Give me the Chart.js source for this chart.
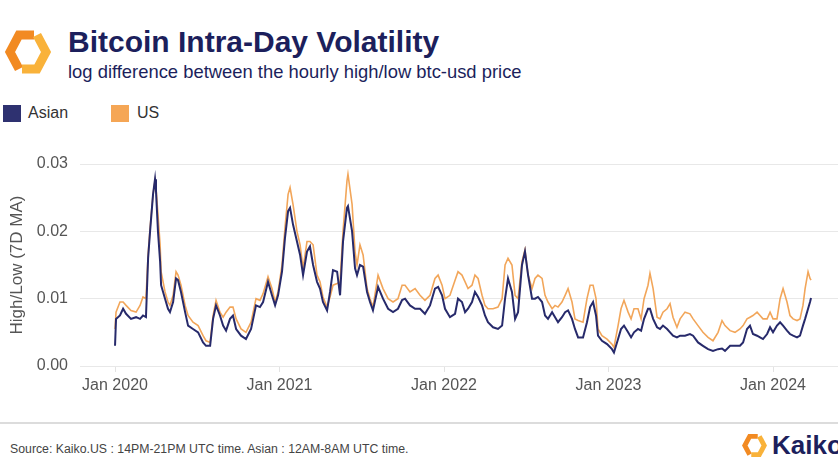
<!DOCTYPE html>
<html>
<head>
<meta charset="utf-8">
<title>Bitcoin Intra-Day Volatility</title>
<script src="https://cdn.jsdelivr.net/npm/chart.js@4.4.1/dist/chart.umd.min.js"></script>
<style>
    html, body { margin: 0; padding: 0; background: #fff; }
    body { width: 838px; height: 472px; position: relative; overflow: hidden;
           font-family: "Liberation Sans", Arial, Helvetica, sans-serif; }
    .logo { position: absolute; left: 3px; top: 27px; width: 50px; height: 50px; }
    .title { position: absolute; left: 68px; top: 25px; font-size: 30px; line-height: 34px;
             font-weight: bold; color: #1c1f5c; white-space: nowrap; }
    .subtitle { position: absolute; left: 68px; top: 61px; font-size: 18.4px; line-height: 22px;
                color: #1c1f5c; white-space: nowrap; }
    .legend { position: absolute; top: 104px; left: 3px; font-size: 16px; line-height: 18px; color: #333; }
    .legend span { position: absolute; top: 0; white-space: nowrap; }
    .legend i { position: absolute; top: 1px; width: 18px; height: 17px; }
    #chartBox { position: absolute; left: 0; top: 140px; width: 838px; height: 270px; }
    .rule { position: absolute; left: 0; top: 422px; width: 838px; height: 2px; background: #dcdcdc; }
    .source { position: absolute; left: 10px; top: 442px; font-size: 12.3px; line-height: 14px;
              color: #444; white-space: nowrap; }
    .brand { position: absolute; left: 741px; top: 432px; width: 27px; height: 27px; }
    .brandText { position: absolute; left: 772px; top: 430px; font-size: 26px; line-height: 30px;
                 font-weight: bold; color: #1c1f5c; white-space: nowrap; }
</style>
</head>
<body>

<svg class="logo" viewBox="0 0 50 50">
    <path d="M31 8 L16 8 L7 25 L16 42" fill="none" stroke="#f28a22" stroke-width="9"/>
    <path d="M19 42 L34 42 L43 25 L34 8" fill="none" stroke="#f9b23a" stroke-width="9"/>
</svg>
<div class="title">Bitcoin Intra-Day Volatility</div>
<div class="subtitle">log difference between the hourly high/low btc-usd price</div>

<div class="legend">
    <i style="left:0; background:#2e3170;"></i><span style="left:25px;">Asian</span>
    <i style="left:108px; background:#f5a655;"></i><span style="left:134px;">US</span>
</div>

<div id="chartBox"><canvas id="myChart" width="838" height="270"></canvas></div>

<div class="rule"></div>
<div class="source">Source: Kaiko.US : 14PM-21PM UTC time. Asian : 12AM-8AM UTC time.</div>
<svg class="brand" viewBox="0 0 50 50">
    <path d="M31 8 L16 8 L7 25 L16 42" fill="none" stroke="#f28a22" stroke-width="9"/>
    <path d="M19 42 L34 42 L43 25 L34 8" fill="none" stroke="#f9b23a" stroke-width="9"/>
</svg>
<div class="brandText">Kaiko</div>

<script>
// dates as decimal years
var years = [
    2020.000, 2020.006, 2020.030, 2020.049, 2020.067, 2020.097, 2020.128, 2020.152, 2020.170, 2020.188,
    2020.201, 2020.213, 2020.231, 2020.243, 2020.249, 2020.261, 2020.274, 2020.280, 2020.304, 2020.322,
    2020.334, 2020.353, 2020.371, 2020.383, 2020.401, 2020.426, 2020.444, 2020.474, 2020.505, 2020.535,
    2020.553, 2020.578, 2020.596, 2020.614, 2020.638, 2020.657, 2020.675, 2020.699, 2020.717, 2020.736,
    2020.766, 2020.796, 2020.827, 2020.857, 2020.881, 2020.900, 2020.930, 2020.954, 2020.973, 2020.991,
    2021.015, 2021.033, 2021.052, 2021.064, 2021.082, 2021.106, 2021.125, 2021.143, 2021.167, 2021.185,
    2021.204, 2021.228, 2021.246, 2021.264, 2021.289, 2021.307, 2021.325, 2021.350, 2021.368, 2021.386,
    2021.410, 2021.416, 2021.441, 2021.459, 2021.471, 2021.489, 2021.508, 2021.532, 2021.550, 2021.568,
    2021.599, 2021.629, 2021.660, 2021.690, 2021.720, 2021.745, 2021.763, 2021.793, 2021.824, 2021.854,
    2021.884, 2021.915, 2021.945, 2021.964, 2021.988,
    2022.006, 2022.036, 2022.067, 2022.085, 2022.109, 2022.128, 2022.146, 2022.170, 2022.188, 2022.207,
    2022.231, 2022.249, 2022.267, 2022.298, 2022.328, 2022.353, 2022.371, 2022.389, 2022.413, 2022.432,
    2022.450, 2022.474, 2022.492, 2022.511, 2022.535, 2022.553, 2022.571, 2022.596, 2022.614, 2022.632,
    2022.657, 2022.675, 2022.693, 2022.717, 2022.736, 2022.754, 2022.778, 2022.796, 2022.815, 2022.845,
    2022.869, 2022.888, 2022.906, 2022.924, 2022.936, 2022.960, 2022.991,
    2023.021, 2023.033, 2023.058, 2023.076, 2023.094, 2023.119, 2023.137, 2023.155, 2023.179, 2023.198,
    2023.216, 2023.240, 2023.252, 2023.271, 2023.295, 2023.313, 2023.331, 2023.356, 2023.374, 2023.392,
    2023.416, 2023.435, 2023.465, 2023.495, 2023.514, 2023.544, 2023.574, 2023.605, 2023.635, 2023.666,
    2023.690, 2023.708, 2023.739, 2023.769, 2023.799, 2023.818, 2023.842, 2023.860, 2023.878, 2023.903,
    2023.921, 2023.939, 2023.964, 2023.982,
    2024.000, 2024.024, 2024.043, 2024.061, 2024.085, 2024.103, 2024.122, 2024.146, 2024.164, 2024.182,
    2024.195, 2024.213, 2024.225, 2024.231
];

// Asian session, 12AM-8AM UTC
var asian = [
    0.0030, 0.0070, 0.0075, 0.0085, 0.00775, 0.0070, 0.00725, 0.0070, 0.0075, 0.00725,
    0.0160, 0.0200, 0.0255, 0.02775, 0.0260, 0.0200, 0.0155, 0.0120, 0.0100, 0.0085,
    0.0080, 0.0095, 0.0130, 0.01275, 0.0110, 0.0080, 0.0060, 0.0055, 0.0050, 0.0035,
    0.0030, 0.0030, 0.0070, 0.0090, 0.0075, 0.0060, 0.00525, 0.0070, 0.0075, 0.0055,
    0.0045, 0.0040, 0.0055, 0.0090, 0.00875, 0.0095, 0.0125, 0.0105, 0.0090, 0.0105,
    0.0140, 0.0190, 0.0230, 0.0235, 0.0210, 0.0185, 0.0165, 0.0135, 0.0170, 0.01775,
    0.0150, 0.0125, 0.0115, 0.0095, 0.00825, 0.0110, 0.01425, 0.0140, 0.0105, 0.0185,
    0.0235, 0.02375, 0.0200, 0.0145, 0.0135, 0.0150, 0.01475, 0.0110, 0.0095, 0.00825,
    0.01175, 0.0100, 0.0085, 0.0080, 0.0085, 0.0098, 0.0100, 0.0090, 0.0085, 0.0085,
    0.00775, 0.0090, 0.0115, 0.01175, 0.0105,
    0.0085, 0.00725, 0.00775, 0.0100, 0.0095, 0.0080, 0.0085, 0.0095, 0.0110, 0.01025,
    0.0090, 0.0075, 0.0065, 0.00575, 0.0055, 0.0060, 0.0100, 0.0130, 0.0110, 0.0070,
    0.0080, 0.0150, 0.0170, 0.0135, 0.0100, 0.0100, 0.01025, 0.0095, 0.0075, 0.0070,
    0.0080, 0.00725, 0.0065, 0.00725, 0.0080, 0.00825, 0.0070, 0.0055, 0.00425, 0.00425,
    0.0065, 0.00875, 0.0095, 0.0075, 0.0045, 0.00375, 0.00325,
    0.0025, 0.0020, 0.0040, 0.0055, 0.0060, 0.0050, 0.00425, 0.0050, 0.0055, 0.00525,
    0.0070, 0.0085, 0.0085, 0.0070, 0.00575, 0.0055, 0.0060, 0.0055, 0.0050, 0.0045,
    0.00425, 0.0045, 0.0045, 0.00475, 0.0045, 0.0035, 0.0030, 0.0025, 0.00225, 0.0025,
    0.0026, 0.00225, 0.0030, 0.0030, 0.0030, 0.0035, 0.0055, 0.0060, 0.00475, 0.0045,
    0.00425, 0.0040, 0.00475, 0.00575,
    0.0050, 0.0060, 0.0065, 0.0060, 0.00525, 0.00475, 0.0045, 0.00425, 0.0045, 0.0060,
    0.0070, 0.0085, 0.0095, 0.0101
];

// US session, 14PM-21PM UTC
var us = [
    0.0055, 0.0080, 0.0095, 0.0095, 0.0090, 0.00825, 0.0080, 0.0090, 0.01025, 0.0100,
    0.0165, 0.0205, 0.0255, 0.0275, 0.0265, 0.0225, 0.0180, 0.0140, 0.0110, 0.0095,
    0.0090, 0.0105, 0.0140, 0.0135, 0.0120, 0.0090, 0.0075, 0.0065, 0.0060, 0.0045,
    0.00375, 0.0035, 0.0075, 0.00975, 0.0080, 0.00725, 0.0080, 0.00875, 0.00875, 0.0070,
    0.0055, 0.0050, 0.0065, 0.0100, 0.00975, 0.01075, 0.01325, 0.0115, 0.0095, 0.0110,
    0.0150, 0.0205, 0.0255, 0.0265, 0.0240, 0.0200, 0.0180, 0.0145, 0.0185, 0.0185,
    0.0180, 0.0135, 0.0125, 0.01025, 0.00875, 0.01025, 0.0120, 0.01225, 0.0125, 0.0200,
    0.0275, 0.0285, 0.0240, 0.0170, 0.0150, 0.0180, 0.0165, 0.0115, 0.0100, 0.00875,
    0.0135, 0.0115, 0.0100, 0.0095, 0.0100, 0.0120, 0.0120, 0.0110, 0.0115, 0.0105,
    0.00975, 0.0105, 0.0130, 0.0135, 0.0120,
    0.0100, 0.0105, 0.01275, 0.0140, 0.0135, 0.0125, 0.0115, 0.0120, 0.0135, 0.0130,
    0.0105, 0.0090, 0.0085, 0.0085, 0.00875, 0.0100, 0.0150, 0.0160, 0.0150, 0.0105,
    0.0100, 0.0155, 0.01725, 0.0135, 0.0115, 0.0130, 0.0135, 0.0130, 0.0105, 0.0095,
    0.0085, 0.0090, 0.00875, 0.0095, 0.0105, 0.0115, 0.0095, 0.0070, 0.00675, 0.0065,
    0.0100, 0.0120, 0.0120, 0.0100, 0.0055, 0.0045, 0.0040,
    0.00325, 0.00275, 0.0060, 0.0085, 0.00975, 0.0080, 0.0070, 0.0085, 0.0085, 0.0070,
    0.0100, 0.0120, 0.01375, 0.0115, 0.00725, 0.0070, 0.0080, 0.0085, 0.00925, 0.00725,
    0.00575, 0.0070, 0.0080, 0.00775, 0.0070, 0.0060, 0.0050, 0.00425, 0.00375, 0.0050,
    0.00675, 0.0060, 0.00525, 0.0050, 0.0055, 0.0060, 0.0070, 0.00725, 0.0075, 0.0080,
    0.0075, 0.0070, 0.0070, 0.0080,
    0.0070, 0.0070, 0.0100, 0.0115, 0.0095, 0.0075, 0.0070, 0.00675, 0.0070, 0.0090,
    0.0115, 0.0140, 0.0130, 0.01275
];

var tickYears = [2020, 2021, 2022, 2023, 2024];
var yTicks = [0, 0.01, 0.02, 0.03];

function toPoints(values) {
    var pts = [];
    for (let i = 0; i < years.length; i++) {
        pts.push({ x: years[i], y: values[i] });
    }
    return pts;
}

var ctx = document.getElementById('myChart').getContext('2d');
var myChart = new Chart(ctx, {
    type: 'line',
    data: {
        datasets: [
            { label: 'Asian', data: toPoints(asian), borderColor: '#272a6b', borderWidth: 2,
              pointRadius: 0, tension: 0 },
            { label: 'US', data: toPoints(us), borderColor: '#f2a65a', borderWidth: 1.6,
              pointRadius: 0, tension: 0 }
        ]
    },
    options: {
        responsive: false,
        animation: false,
        devicePixelRatio: 1,
        layout: { padding: { top: 24, right: 0, bottom: 0, left: 0 } },
        plugins: { legend: { display: false }, tooltip: { enabled: false } },
        scales: {
            x: {
                type: 'linear',
                min: 2019.787,
                max: 2024.395,
                afterBuildTicks: function(axis) {
                    axis.ticks = tickYears.map(function(v) { return { value: v }; });
                },
                afterFit: function(axis) { axis.height = 44; },
                ticks: {
                    autoSkip: false, maxRotation: 0, padding: 4, color: '#555',
                    font: { family: 'Liberation Sans', size: 16 },
                    callback: function(v) { return 'Jan ' + v; }
                },
                grid: { drawOnChartArea: false, drawTicks: true, tickLength: 6, color: '#e3e3e3' },
                border: { display: false }
            },
            y: {
                min: 0,
                max: 0.03,
                afterBuildTicks: function(axis) {
                    axis.ticks = yTicks.map(function(v) { return { value: v }; });
                },
                afterFit: function(axis) { axis.width = 80; },
                ticks: {
                    padding: 12, color: '#555',
                    font: { family: 'Liberation Sans', size: 16 },
                    callback: function(v) { return v.toFixed(2); }
                },
                grid: { color: '#e8e8e8', drawTicks: false },
                border: { display: false },
                title: {
                    display: true, text: 'High/Low (7D MA)', color: '#555',
                    font: { family: 'Liberation Sans', size: 17 },
                    padding: { top: 7, bottom: 0 }
                }
            }
        }
    }
});
</script>
</body>
</html>
